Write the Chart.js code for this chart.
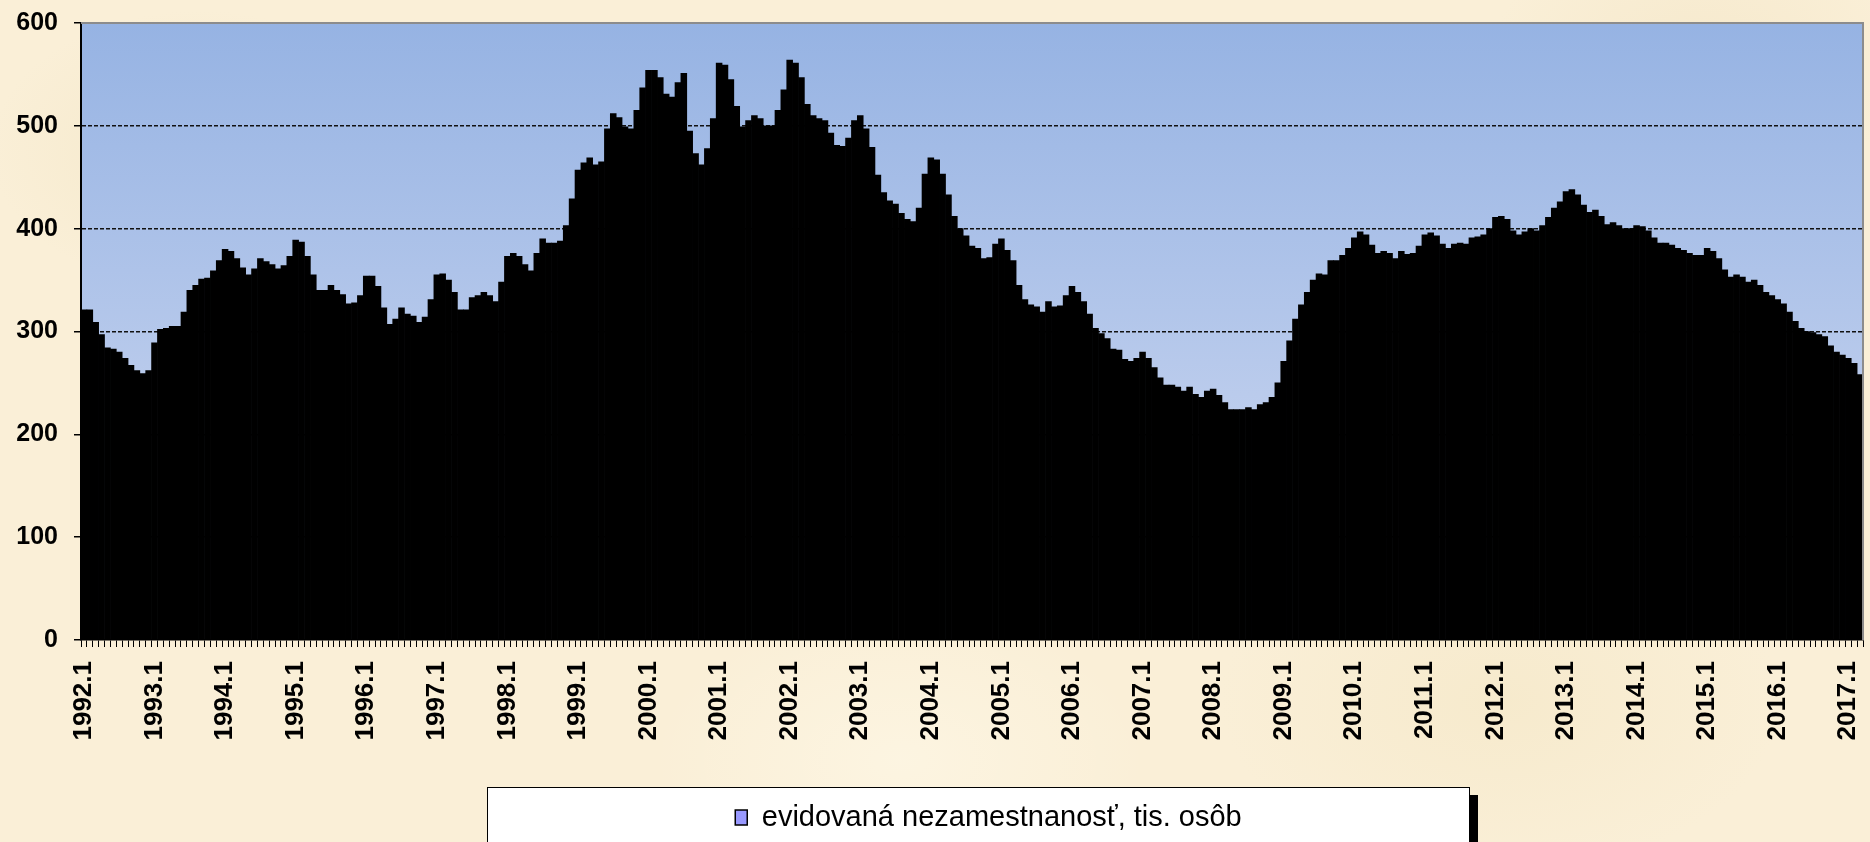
<!DOCTYPE html>
<html>
<head>
<meta charset="utf-8">
<script src="https://cdn.jsdelivr.net/npm/chart.js@4/dist/chart.umd.min.js"></script>
<style>
html, body { margin: 0; padding: 0; width: 1870px; height: 842px; overflow: hidden; }
body {
  background-color: #FAEFD7;
  background-image:
    radial-gradient(ellipse 300px 200px at 200px 150px, rgba(235,220,180,0.35), rgba(235,220,180,0) 70%),
    radial-gradient(ellipse 400px 250px at 1500px 700px, rgba(240,225,185,0.35), rgba(240,225,185,0) 70%),
    radial-gradient(ellipse 350px 220px at 900px 760px, rgba(255,250,235,0.5), rgba(255,250,235,0) 70%),
    radial-gradient(ellipse 300px 200px at 1700px 60px, rgba(238,222,185,0.35), rgba(238,222,185,0) 70%);
}
canvas { display: block; }
</style>
</head>
<body>
<canvas id="c" width="1870" height="842"></canvas>
<script>
// ---- data ----
const years = [1992,1993,1994,1995,1996,1997,1998,1999,2000,2001,2002,2003,2004,2005,2006,2007,2008,2009,2010,2011,2012,2013,2014,2015,2016,2017];
const monthsInLastYear = 3;
const seriesLabel = "evidovaná nezamestnanosť, tis. osôb";
const yTicks = [0, 100, 200, 300, 400, 500, 600];

const v1992 = [321,321,309,297,284,283,280,274,267,262,259,262];
const v1993 = [289,302,303,305,305,319,340,345,351,352,359,369];
const v1994 = [380,378,371,362,355,361,371,368,365,361,364,373];
const v1995 = [389,387,373,355,340,340,345,340,336,327,328,335];
const v1996 = [354,354,344,323,307,312,323,317,315,309,314,331];
const v1997 = [355,356,350,338,321,321,333,335,338,335,329,348];
const v1998 = [373,376,373,365,359,376,390,386,386,388,403,429];
const v1999 = [457,464,469,462,465,497,512,508,499,497,515,537];
const v2000 = [554,554,547,531,528,542,551,495,473,462,478,507];
const v2001 = [561,559,545,519,499,505,510,507,500,500,515,535];
const v2002 = [564,561,547,521,510,507,505,493,481,480,488,505];
const v2003 = [510,497,479,452,435,427,424,415,409,407,420,453];
const v2004 = [469,467,453,433,412,400,393,383,381,371,372,385];
const v2005 = [390,379,369,345,331,326,324,319,329,324,325,335];
const v2006 = [344,338,329,317,303,298,293,283,282,273,271,274];
const v2007 = [280,274,265,255,248,248,246,242,246,239,236,242];
const v2008 = [244,238,231,224,224,224,226,224,229,231,236,250];
const v2009 = [271,291,312,326,338,350,356,355,369,369,374,381];
const v2010 = [391,397,394,384,376,378,376,371,378,375,376,383];
const v2011 = [394,396,393,385,381,385,386,385,391,392,394,400];
const v2012 = [411,412,409,398,394,397,400,398,403,411,420,426];
const v2013 = [436,438,433,423,416,418,412,404,406,403,400,400];
const v2014 = [403,402,398,391,386,386,384,381,379,376,374,374];
const v2015 = [381,378,371,360,353,355,353,348,350,345,338,335];
const v2016 = [331,327,319,310,303,300,299,297,295,286,280,277];
const v2017 = [274,269,258];

const values = [].concat(v1992,v1993,v1994,v1995,v1996,v1997,v1998,v1999,v2000,v2001,v2002,v2003,v2004,
  v2005,v2006,v2007,v2008,v2009,v2010,v2011,v2012,v2013,v2014,v2015,v2016,v2017);

const categories = [];
years.forEach(function (y, yi) {
  const n = (yi === years.length - 1) ? monthsInLastYear : 12;
  for (let m = 1; m <= n; m++) categories.push(y + "." + m);
});

// ---- plugins ----
const plotBg = {
  id: 'plotBg',
  afterLayout(chart) {
    // shift the legend item to sit where the original places it
    if (chart.legend) { chart.legend.left += 57; chart.legend.right += 57; }
  },
  beforeDraw(chart) {
    const { ctx, chartArea: a } = chart;
    ctx.save();
    // legend box with shadow
    const lx = 487, ly = 787, lw = 982, lh = 70;
    ctx.fillStyle = '#000';
    ctx.fillRect(lx + 9, ly + 8, lw, lh);
    ctx.fillStyle = '#fff';
    ctx.fillRect(lx, ly, lw, lh);
    ctx.strokeStyle = '#000';
    ctx.lineWidth = 1;
    ctx.strokeRect(lx + 0.5, ly + 0.5, lw, lh);
    // plot background gradient
    const g = ctx.createLinearGradient(0, a.top, 0, a.bottom);
    g.addColorStop(0, '#96B3E3');
    g.addColorStop(0.6, '#BACBEC');
    g.addColorStop(1, '#CEDAF2');
    ctx.fillStyle = g;
    ctx.fillRect(a.left, a.top, a.right - a.left, a.bottom - a.top);
    ctx.restore();
  },
  afterDatasetsDraw(chart) {
    const { ctx, chartArea: a } = chart;
    ctx.save();
    ctx.strokeStyle = '#8C8C8C';
    ctx.lineWidth = 2;
    ctx.beginPath();
    ctx.moveTo(a.left, a.top);
    ctx.lineTo(a.right, a.top);
    ctx.lineTo(a.right, a.bottom);
    ctx.stroke();
    ctx.restore();
  }
};

new Chart(document.getElementById('c'), {
  type: 'bar',
  data: {
    labels: categories,
    datasets: [{
      label: seriesLabel,
      data: values,
      backgroundColor: '#000000',
      borderWidth: 0,
      barPercentage: 1.0,
      categoryPercentage: 1.0
    }]
  },
  plugins: [plotBg],
  options: {
    responsive: false,
    animation: false,
    devicePixelRatio: 1,
    layout: { padding: { top: 23, right: 7, left: 0, bottom: 0 } },
    plugins: {
      tooltip: { enabled: false },
      legend: {
        display: true,
        position: 'bottom',
        labels: {
          color: '#000',
          font: { family: "'Liberation Sans Narrow', 'Arial Narrow', 'Liberation Sans', Arial, sans-serif", size: 29 },
          boxWidth: 12,
          boxHeight: 15,
          padding: 13,
          generateLabels(chart) {
            return [{
              text: seriesLabel,
              fillStyle: '#9999FF',
              strokeStyle: '#000',
              lineWidth: 1.5,
              hidden: false,
              datasetIndex: 0
            }];
          }
        }
      }
    },
    scales: {
      x: {
        type: 'category',
        offset: true,
        grid: {
          display: true,
          offset: true,
          drawOnChartArea: false,
          drawTicks: true,
          tickLength: 7,
          tickColor: '#000',
          color: '#000'
        },
        border: { display: true, color: '#000', width: 1.5 },
        ticks: {
          autoSkip: false,
          maxRotation: 90,
          minRotation: 90,
          padding: 14,
          color: '#000',
          font: { family: "'Liberation Sans', Arial, sans-serif", size: 26, weight: 'bold' },
          callback(val, i) {
            const lab = categories[i];
            return lab.endsWith('.1') && !lab.endsWith('.11') ? lab : '';
          }
        },
        afterFit(scale) {
          scale.height = 150;
          scale.paddingLeft = 0;
          scale.paddingRight = 0;
        }
      },
      y: {
        min: 0,
        max: 600,
        afterBuildTicks(scale) { scale.ticks = yTicks.map(v => ({ value: v })); },
        grid: {
          color: (c) => (c.tick && (c.tick.value === 0 || c.tick.value === 600)) ? 'rgba(0,0,0,0)' : '#111',
          lineWidth: 1.5,
          drawTicks: true,
          tickLength: 7,
          tickColor: '#000',
          tickBorderDash: []
        },
        border: { display: true, color: '#000', width: 2, dash: [4, 2] },
        ticks: {
          padding: 16,
          color: '#000',
          font: { family: "'Liberation Sans', Arial, sans-serif", size: 25, weight: 'bold' }
        },
        afterFit(scale) {
          scale.width = 81;
          scale.paddingTop = 0;
          scale.paddingBottom = 0;
        }
      }
    }
  }
});
</script>
</body>
</html>
